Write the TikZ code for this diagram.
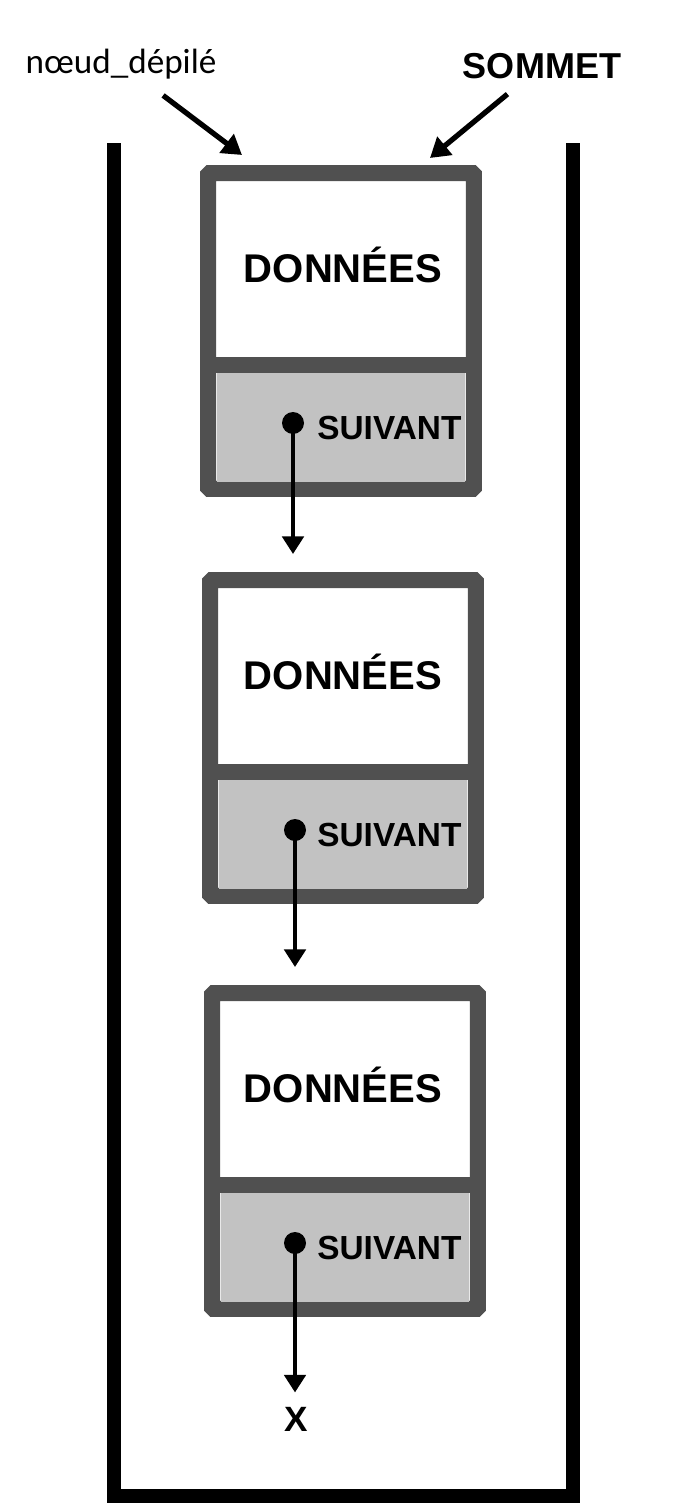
\documentclass[tikz,border=0pt]{standalone}
\usepackage{fontspec}
\setmainfont{Liberation Sans}
\newfontfamily\notefont{Carlito}
\definecolor{cellgray}{HTML}{505050}
\definecolor{nextgray}{HTML}{C2C2C2}
\usetikzlibrary{calc, positioning, arrows.meta}

\begin{document}
\begin{tikzpicture}[x=0.02cm, y=-0.02cm,
  cell/.style={draw=cellgray, line width=0.32cm, rounded corners=1pt,
               minimum width=5.32cm, minimum height=6.32cm, inner sep=0pt},
  nextfield/.style={fill=nextgray, minimum width=4.96cm, minimum height=2.18cm, inner sep=0pt},
  cellbar/.style={draw=cellgray, line width=0.32cm},
  datatext/.style={font=\fontsize{22.8}{27}\selectfont\bfseries, anchor=base, inner sep=0pt},
  nexttext/.style={font=\fontsize{19}{23}\selectfont\bfseries, anchor=base west, inner sep=0pt},
  ptr/.style={circle, fill=black, minimum size=0.44cm, inner sep=0pt},
  link/.style={-{Triangle[length=10pt,width=12pt]}, line width=2.5pt},
  pointer/.style={-{Triangle[length=11pt,width=13pt]}, line width=3pt},
  wall/.style={line width=0.28cm, line join=miter},
]
\useasboundingbox (0,0) rectangle (688,1511);

% la pile
\draw[wall] (114,143) -- (114,1495.5) -- (573,1495.5) -- (573,143);

% noeuds de la pile
\node[cell] (n1) at (341,331) {};
\node[cell] (n2) at (343,738) {};
\node[cell] (n3) at (345,1151) {};

\node[nextfield] (f1) at ($(n1)+(0,96.5)$) {};
\node[nextfield] (f2) at ($(n2)+(0,96.5)$) {};
\node[nextfield] (f3) at ($(n3)+(0,96.5)$) {};

\draw[cellbar] ($(n1.west)+(0,34)$) -- ($(n1.east)+(0,34)$);
\draw[cellbar] ($(n2.west)+(0,34)$) -- ($(n2.east)+(0,34)$);
\draw[cellbar] ($(n3.west)+(0,34)$) -- ($(n3.east)+(0,34)$);

\node[datatext] (d1) at ($(n1)+(2,-49)$) {DONNÉES};
\node[datatext] (d2) at ($(n2)+(0,-49)$) {DONNÉES};
\node[datatext] (d3) at ($(n3)+(-2,-49)$) {DONNÉES};

\node[nexttext] (s1) at ($(n1)+(-24,108)$) {SUIVANT};
\node[nexttext] (s2) at ($(n2)+(-26,108)$) {SUIVANT};
\node[nexttext] (s3) at ($(n3)+(-28,108)$) {SUIVANT};

\node[ptr] (p1) at ($(n1)+(-48,92)$) {};
\node[ptr] (p2) at ($(n2)+(-48,92)$) {};
\node[ptr] (p3) at ($(n3)+(-50,92)$) {};

\node[font=\fontsize{20}{24}\selectfont\bfseries, anchor=base, inner sep=0pt] (nul) at (296,1431) {X};

\draw[link, shorten >=0.36cm] (p1.center) -- (p1 |- n2.north);
\draw[link, shorten >=0.36cm] (p2.center) -- (p2 |- n3.north);
\draw[link, shorten >=0.28cm] (p3.center) -- (p3 |- nul.north);

% etiquettes du haut
\node[font=\notefont\fontsize{20}{24}\selectfont, anchor=base] (depile) at (121,73) {nœud\_dépilé};
\node[font=\fontsize{20.5}{25}\selectfont\bfseries, anchor=base] (sommet) at (542,78) {SOMMET};

\coordinate (depile-tip) at (242,155);
\coordinate (sommet-tip) at (430,158);

\draw[pointer, shorten <=0.35cm] (depile) -- (depile-tip);
\draw[pointer, shorten <=0.3cm] (sommet) -- (sommet-tip);
\end{tikzpicture}
\end{document}
